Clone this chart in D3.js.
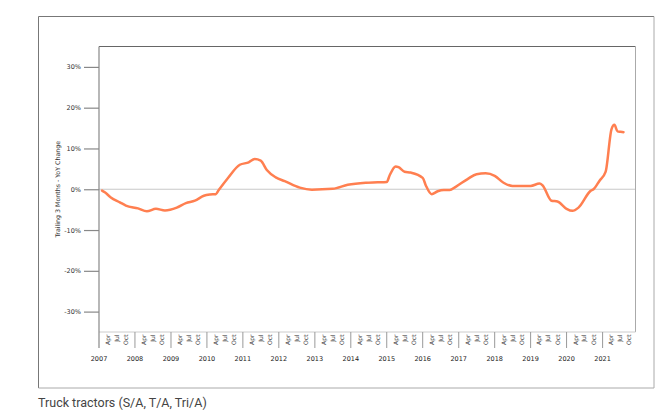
<!DOCTYPE html>
<html lang="en">
<head>
    <meta charset="UTF-8">
    <title>Truck tractors - trailing 3 months YoY</title>
    <script src="https://d3js.org/d3.v7.min.js"></script>
    <style>
        body { margin: 0; background: #fff; }
        svg { display: block; }
    </style>
</head>
<body>
<script>
    const width = 671
    const height = 410

    // monthly readings (trailing 3 months, % YoY change)
    const months = ["2007-02","2007-03","2007-05","2007-08","2007-10","2008-02","2008-05","2008-08",
        "2008-11","2009-03","2009-06","2009-09","2009-12","2010-02","2010-04","2010-05","2010-08",
        "2010-12","2011-03","2011-05","2011-07","2011-09","2011-12","2012-03","2012-08","2012-12",
        "2013-07","2013-12","2014-06","2014-10","2015-01","2015-02","2015-04","2015-05","2015-07",
        "2015-09","2016-01","2016-02","2016-04","2016-06","2016-08","2016-10","2016-12","2017-04",
        "2017-07","2017-10","2018-01","2018-04","2018-07","2019-01","2019-04","2019-05","2019-08",
        "2019-10","2020-01","2020-03","2020-05","2020-09","2020-10","2020-12","2021-02","2021-04",
        "2021-05","2021-06","2021-07","2021-08"]
    const changes = [-0.35, -0.75, -2.0, -3.2, -4.0, -4.7, -5.4, -4.8,
        -5.2, -4.5, -3.4, -2.8, -1.6, -1.3, -1.2, -0.2, 2.7,
        6.0, 6.6, 7.4, 7.0, 4.7, 2.9, 2.0, 0.4, -0.1,
        0.1, 1.1, 1.6, 1.7, 1.8, 3.5, 5.6, 5.4, 4.3,
        4.1, 2.8, 1.0, -1.2, -0.5, -0.2, -0.2, 0.6, 2.5,
        3.7, 3.9, 3.3, 1.6, 0.8, 0.8, 1.4, 1.0, -2.8,
        -3.0, -4.8, -5.3, -4.5, -0.4, 0.0, 2.1, 4.3, 14.7,
        15.8, 14.2, 14.1, 14.0]
    const yTicks = [-30, -20, -10, 0, 10, 20, 30]
    const quarterNames = {3: "Apr", 6: "Jul", 9: "Oct"}

    const parseMonth = d3.timeParse("%Y-%m")
    const data = months.map((m, i) => ({date: parseMonth(m), value: changes[i]}))

    const plot = {left: 99, right: 635.5, top: 46.5, bottom: 332}

    const x = d3.scaleTime()
        .domain([new Date(2007, 0, 1), new Date(2021, 11, 1)])
        .range([plot.left, plot.right])
    const y = d3.scaleLinear()
        .domain([-35, 35])
        .range([plot.bottom, plot.top])

    let svg = d3.select("body").append("svg")
        .attr("width", width)
        .attr("height", height)
        .attr("viewBox", `0 0 ${width} ${height}`)

    // outer frame
    svg.append("path")
        .attr("d", `M38.5,388 V16.5 H654`)
        .attr("fill", "none").attr("stroke", "#777")
    svg.append("path")
        .attr("d", `M654,16.5 V388 H38.5`)
        .attr("fill", "none").attr("stroke", "#aaa")

    const tickFont = "'DejaVu Sans', Verdana, sans-serif"

    // y axis
    const yAxis = svg.append("g")
        .attr("transform", `translate(${plot.left},0)`)
        .call(d3.axisLeft(y).tickValues(yTicks).tickSize(15).tickPadding(3)
            .tickFormat(d => d + "%"))
    yAxis.select(".domain").remove()
    yAxis.selectAll(".tick line").attr("stroke", "#888").attr("stroke-width", 1.2)
    yAxis.selectAll(".tick text")
        .attr("font-family", tickFont).attr("font-size", 6.5).attr("fill", "#333")

    // zero line
    svg.append("line")
        .attr("x1", plot.left).attr("x2", plot.right)
        .attr("y1", y(0)).attr("y2", y(0))
        .attr("stroke", "#c8c8c8").attr("stroke-width", 1.2)

    // plot box
    svg.append("line")
        .attr("x1", plot.left).attr("x2", plot.right)
        .attr("y1", plot.top).attr("y2", plot.top)
        .attr("stroke", "#666")
    svg.append("line")
        .attr("x1", plot.right).attr("x2", plot.right)
        .attr("y1", plot.top).attr("y2", plot.bottom)
        .attr("stroke", "#aaa")
    svg.append("line")
        .attr("x1", plot.left).attr("x2", plot.right)
        .attr("y1", plot.bottom).attr("y2", plot.bottom)
        .attr("stroke", "#ccc")
    svg.append("line")
        .attr("x1", plot.left).attr("x2", plot.left)
        .attr("y1", plot.top).attr("y2", plot.bottom + 16)
        .attr("stroke", "#888").attr("stroke-width", 1.2)

    // x axis: year separators, quarter labels, year labels
    const gx = svg.append("g").attr("class", "x-axis")
    const years = d3.timeYear.range(new Date(2007, 0, 1), x.domain()[1])
    gx.selectAll(".sep")
        .data(years.slice(1))
        .enter().append("line")
        .attr("x1", d => x(d)).attr("x2", d => x(d))
        .attr("y1", plot.bottom).attr("y2", plot.bottom + 16)
        .attr("stroke", "#999")
    gx.selectAll(".year")
        .data(years)
        .enter().append("text")
        .attr("x", d => x(d)).attr("y", plot.bottom + 29)
        .attr("text-anchor", "middle")
        .attr("font-family", tickFont).attr("font-size", 6.5).attr("fill", "#222")
        .text(d3.timeFormat("%Y"))

    const quarters = d3.timeMonth.every(3).range(new Date(2007, 0, 1), x.domain()[1])
        .filter(d => d.getMonth() !== 0)
    gx.selectAll(".q")
        .data(quarters)
        .enter().append("text")
        .attr("transform", d => `translate(${x(d) + 2},${plot.bottom + 2.5}) rotate(-90)`)
        .attr("text-anchor", "end")
        .attr("font-family", tickFont).attr("font-size", 6).attr("fill", "#333")
        .text(d => quarterNames[d.getMonth()])

    // y axis title
    svg.append("text")
        .attr("transform", `translate(${60},${y(0)}) rotate(-90)`)
        .attr("text-anchor", "middle")
        .attr("font-family", tickFont).attr("font-size", 6.3).attr("fill", "#333")
        .text("Trailing 3 Months - YoY Change")

    // series line
    const line = d3.line()
        .x(d => x(d.date))
        .y(d => y(d.value))
        .curve(d3.curveMonotoneX)
    svg.append("path")
        .datum(data)
        .attr("fill", "none")
        .attr("stroke", "#ff7f50")
        .attr("stroke-width", 2.5)
        .attr("stroke-linejoin", "round")
        .attr("stroke-linecap", "round")
        .attr("d", line)

    // caption
    svg.append("text")
        .attr("x", 38).attr("y", 406.5)
        .attr("font-family", "Roboto, sans-serif").attr("font-size", 12.5).attr("fill", "#444")
        .text("Truck tractors (S/A, T/A, Tri/A)")
</script>
</body>
</html>
